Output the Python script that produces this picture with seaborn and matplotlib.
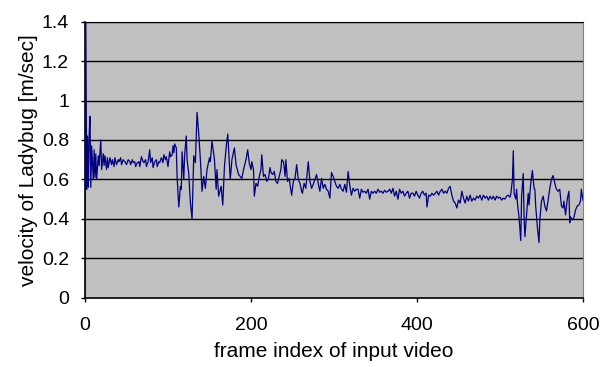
import pandas as pd
import matplotlib
matplotlib.use("Agg")
import matplotlib.pyplot as plt
import seaborn as sns

# values (frame index -> velocity in m/sec)
frames = [
    0, 1, 2, 3, 4, 5, 6, 7, 8, 10, 11, 12, 13, 14, 16, 17, 19, 20, 22, 23,
    24, 26, 27, 28, 30, 32, 33, 35, 36, 38, 40, 41, 43, 44, 46, 48, 50, 52, 54, 55,
    57, 58, 60, 61, 63, 65, 66, 68, 70, 71, 73, 74, 76, 78, 79, 81, 82, 84, 86, 87,
    89, 90, 92, 94, 95, 97, 98, 100, 102, 103, 105, 106, 107, 108, 110, 111, 113, 115, 116, 117,
    119, 120, 122, 123, 125, 127, 129, 131, 133, 135, 137, 139, 141, 143, 145, 147, 150, 151, 153, 156,
    158, 159, 161, 164, 166, 168, 170, 172, 175, 177, 180, 182, 185, 187, 189, 191, 194, 196, 198, 200,
    201, 203, 204, 206, 208, 210, 212, 213, 215, 217, 219, 221, 223, 224, 226, 228, 230, 232, 234, 236,
    237, 239, 240, 241, 242, 244, 246, 247, 249, 251, 253, 255, 257, 259, 261, 262, 264, 266, 267, 269,
    271, 273, 275, 277, 279, 281, 283, 285, 287, 289, 291, 293, 295, 297, 299, 301, 303, 305, 307, 309,
    311, 313, 315, 317, 319, 321, 323, 325, 327, 329, 331, 333, 335, 337, 339, 341, 343, 345, 347, 349,
    351, 353, 355, 357, 359, 361, 363, 365, 367, 369, 371, 373, 375, 377, 379, 381, 383, 385, 387, 389,
    391, 393, 395, 397, 399, 401, 403, 405, 407, 409, 411, 412, 414, 416, 418, 420, 422, 424, 426, 428,
    430, 432, 434, 436, 438, 440, 442, 444, 446, 448, 450, 452, 454, 456, 458, 460, 462, 464, 466, 468,
    470, 472, 474, 476, 478, 480, 482, 484, 486, 488, 490, 492, 494, 496, 498, 500, 502, 504, 506, 508,
    510, 512, 513, 515, 516, 517, 519, 520, 521, 523, 525, 526, 528, 529, 530, 532, 534, 535, 537, 539,
    541, 542, 543, 545, 547, 548, 550, 552, 554, 556, 558, 560, 562, 564, 566, 568, 570, 572, 574, 576,
    577, 579, 581, 583, 584, 585, 587, 589, 591, 593, 595, 597, 598, 600,
]
velocity = [
    0.0, 1.40, 0.55, 0.82, 0.56, 0.82, 0.92, 0.56, 0.77, 0.60, 0.75, 0.61, 0.73, 0.60, 0.72, 0.67, 0.80, 0.65, 0.73, 0.67,
    0.72, 0.65, 0.71, 0.66, 0.71, 0.675, 0.70, 0.665, 0.71, 0.675, 0.70, 0.69, 0.71, 0.675, 0.70, 0.69, 0.675, 0.70, 0.69, 0.675,
    0.70, 0.685, 0.69, 0.665, 0.685, 0.69, 0.665, 0.715, 0.69, 0.685, 0.70, 0.665, 0.69, 0.75, 0.685, 0.71, 0.66, 0.69, 0.70, 0.665,
    0.69, 0.685, 0.71, 0.685, 0.725, 0.70, 0.715, 0.665, 0.74, 0.715, 0.725, 0.77, 0.735, 0.78, 0.76, 0.61, 0.46, 0.565, 0.55, 0.74,
    0.60, 0.72, 0.82, 0.70, 0.63, 0.48, 0.40, 0.72, 0.685, 0.94, 0.835, 0.70, 0.54, 0.615, 0.555, 0.65, 0.71, 0.69, 0.795, 0.70,
    0.55, 0.65, 0.515, 0.565, 0.47, 0.665, 0.76, 0.83, 0.60, 0.70, 0.76, 0.675, 0.625, 0.615, 0.605, 0.65, 0.70, 0.75, 0.68, 0.65,
    0.69, 0.65, 0.515, 0.58, 0.565, 0.615, 0.65, 0.725, 0.615, 0.625, 0.59, 0.605, 0.66, 0.635, 0.625, 0.64, 0.59, 0.58, 0.615, 0.65,
    0.70, 0.69, 0.66, 0.615, 0.70, 0.59, 0.605, 0.575, 0.52, 0.59, 0.605, 0.675, 0.60, 0.58, 0.54, 0.53, 0.58, 0.555, 0.60, 0.69,
    0.59, 0.555, 0.575, 0.60, 0.625, 0.58, 0.54, 0.605, 0.555, 0.575, 0.55, 0.54, 0.505, 0.635, 0.615, 0.59, 0.565, 0.555, 0.575, 0.55,
    0.54, 0.575, 0.535, 0.64, 0.57, 0.52, 0.555, 0.54, 0.55, 0.55, 0.505, 0.55, 0.535, 0.54, 0.53, 0.55, 0.50, 0.54, 0.53, 0.54,
    0.53, 0.55, 0.535, 0.54, 0.53, 0.545, 0.535, 0.54, 0.55, 0.53, 0.555, 0.515, 0.54, 0.50, 0.55, 0.53, 0.54, 0.515, 0.53, 0.54,
    0.505, 0.53, 0.53, 0.515, 0.54, 0.52, 0.505, 0.53, 0.54, 0.52, 0.53, 0.46, 0.52, 0.515, 0.53, 0.52, 0.53, 0.54, 0.52, 0.54,
    0.55, 0.53, 0.54, 0.53, 0.555, 0.565, 0.52, 0.49, 0.48, 0.455, 0.495, 0.48, 0.54, 0.505, 0.48, 0.515, 0.49, 0.52, 0.49, 0.505,
    0.495, 0.515, 0.505, 0.52, 0.495, 0.52, 0.505, 0.515, 0.495, 0.515, 0.50, 0.515, 0.495, 0.515, 0.505, 0.51, 0.495, 0.505, 0.50, 0.515,
    0.52, 0.51, 0.525, 0.60, 0.745, 0.53, 0.50, 0.55, 0.48, 0.405, 0.29, 0.51, 0.63, 0.41, 0.31, 0.42, 0.53, 0.47, 0.58, 0.645,
    0.555, 0.55, 0.465, 0.36, 0.28, 0.395, 0.49, 0.515, 0.465, 0.44, 0.495, 0.555, 0.60, 0.62, 0.58, 0.55, 0.54, 0.55, 0.465, 0.455,
    0.49, 0.42, 0.50, 0.54, 0.38, 0.41, 0.395, 0.405, 0.445, 0.465, 0.47, 0.49, 0.55, 0.495,
]

x_ticks = [0, 200, 400, 600]
y_ticks = [0, 0.2, 0.4, 0.6, 0.8, 1.0, 1.2, 1.4]
y_tick_labels = ["0", "0.2", "0.4", "0.6", "0.8", "1", "1.2", "1.4"]

df = pd.DataFrame({"frame": frames, "velocity": velocity})

plt.rcParams["font.family"] = ["Liberation Sans", "DejaVu Sans"]

fig = plt.figure(figsize=(6.11, 3.67), dpi=100)
ax = fig.add_axes([85 / 611, 1 - 297.7 / 367, 498 / 611, 276 / 367])
ax.set_facecolor("#C0C0C0")

# horizontal grid lines like the spreadsheet chart
for y in y_ticks[1:]:
    ax.axhline(y, color="black", linewidth=1.0, zorder=1)

sns.lineplot(data=df, x="frame", y="velocity", color="#000080", linewidth=0.9,
             ax=ax, zorder=3)

ax.set_xlim(0, 600)
ax.set_ylim(0, 1.4)
ax.set_xticks(x_ticks)
ax.set_yticks(y_ticks)
ax.set_yticklabels(y_tick_labels)
ax.tick_params(axis="both", labelsize=14, length=3, width=1, color="black")
ax.tick_params(axis="x", pad=11)
ax.tick_params(axis="y", pad=8.5)

for side in ["left", "bottom"]:
    ax.spines[side].set_color("black")
    ax.spines[side].set_linewidth(1.2)
ax.spines["top"].set_color("black")
ax.spines["right"].set_color("#808080")

ax.set_xlabel("frame index of input video", fontsize=15, labelpad=6)
ax.set_ylabel("velocity of Ladybug [m/sec]", fontsize=15, labelpad=3)

fig.savefig("out.png", dpi=100)
